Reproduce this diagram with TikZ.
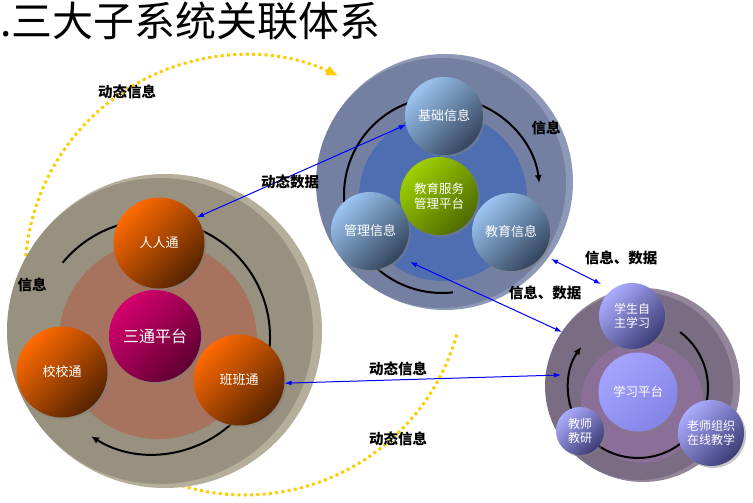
\documentclass[tikz,border=0pt]{standalone}
\usepackage{fontspec}
\setmainfont{Noto Sans CJK SC}
\usetikzlibrary{arrows.meta,shadows,calc}
\definecolor{lface}{HTML}{98917F}
\definecolor{lrim}{HTML}{B4AE9A}
\definecolor{linn}{HTML}{A8735E}
\definecolor{tface}{HTML}{7480A2}
\definecolor{trim}{HTML}{8E99B8}
\definecolor{tinn}{HTML}{4F6EB2}
\definecolor{pface}{HTML}{7A6C82}
\definecolor{prim}{HTML}{93869A}
\definecolor{pinn}{HTML}{8B6F98}
\definecolor{orTop}{HTML}{FF6A00}
\definecolor{orMid}{HTML}{B04600}
\definecolor{orBot}{HTML}{552400}
\definecolor{mgTop}{HTML}{D4006E}
\definecolor{mgMid}{HTML}{A40056}
\definecolor{mgBot}{HTML}{600032}
\definecolor{sbTop}{HTML}{9CC6F2}
\definecolor{sbMid}{HTML}{6A88AA}
\definecolor{sbBot}{HTML}{33445C}
\definecolor{grTop}{HTML}{9ED000}
\definecolor{grMid}{HTML}{7EA600}
\definecolor{grBot}{HTML}{4F6A00}
\definecolor{pwTop}{HTML}{ACACFF}
\definecolor{pwMid}{HTML}{7474C4}
\definecolor{pwBot}{HTML}{3C3C76}
\definecolor{ctTop}{HTML}{A4A4FF}
\definecolor{ctMid}{HTML}{9494F4}
\definecolor{ctBot}{HTML}{8484E6}
\definecolor{ydot}{HTML}{FFCC00}
\begin{document}
\begin{tikzpicture}[x=1pt,y=-1pt,
  disc/.style={circle, inner sep=0pt, draw=none},
  ball/.style={circle, inner sep=0pt, text=white, align=center,
    drop shadow={opacity=0.45, shadow xshift=2pt, shadow yshift=-2pt},
    font=\fontsize{13}{15}\selectfont},
  shadeball/.style n args={3}{top color=#1, middle color=#2, bottom color=#3, shading angle=45},
  orball/.style={ball, shadeball={orTop}{orMid}{orBot}, minimum size=91pt},
  sbball/.style={ball, shadeball={sbTop}{sbMid}{sbBot}, minimum size=78pt},
  pwball/.style={ball, shadeball={pwTop}{pwMid}{pwBot}, font=\fontsize{12}{14}\selectfont},
  blackarc/.style={line width=2pt, black},
  archead/.style={-{Latex[length=8pt,width=7pt]}},
  ydots/.style={ydot, line width=3pt, dash pattern=on 3pt off 3.3pt},
  bluearr/.style={draw={rgb,255:red,0;green,0;blue,255}, line width=1pt,
    arrows={Latex[length=7pt,width=5pt]-Latex[length=7pt,width=5pt]}},
  lbl/.style={font=\bfseries\fontsize{14.5}{16}\selectfont, inner sep=0pt}]
\useasboundingbox (0,0) rectangle (753,503);
\fill[white] (0,0) rectangle (753,503);

% title
\node[anchor=base west, inner sep=0pt, font=\fontsize{41}{44}\selectfont] (title) at (0,37) {.三大子系统关联体系};

% yellow dotted arcs (behind the discs)
\coordinate (yc) at (245,275);
\draw[ydots, -{Triangle[length=12pt,width=9pt]}] (yc) ++(-180:220) arc[start angle=-180, end angle=-65, radius=220];
\draw[ydots] (yc) ++(110:220) arc[start angle=110, end angle=15, radius=220];

% ===== left system =====
\node[disc, fill=lrim, minimum size=314pt] (lrimc) at (165,331) {};
\node[disc, fill=lface, minimum size=306pt] (ldisc) at (160,331) {};
\node[disc, fill=linn, minimum size=198pt] (linner) at (158,340) {};
\coordinate (lc) at (153,337);
\draw[blackarc] (lc) ++(-140.6:117) arc[start angle=-140.6, end angle=-100, radius=117];
\draw[blackarc] (lc) ++(-75:117) arc[start angle=-75, end angle=15, radius=117];
\draw[blackarc, archead] (lc) ++(42:117) arc[start angle=42, end angle=122, radius=117];
\node[ball, shadeball={mgTop}{mgMid}{mgBot}, minimum size=92pt, font=\fontsize{16}{18}\selectfont] (st) at (155,336) {三通平台};
\node[orball] (rr) at (159,243) {人人通};
\node[orball] (xx) at (62,372) {校校通};
\node[orball] (bb) at (239,380) {班班通};

% ===== top-right system =====
\node[disc, fill=trim, minimum size=256pt] (trimc) at (445,182) {};
\node[disc, fill=tface, minimum size=250pt] (tdisc) at (441,183) {};
\node[disc, fill=tinn, minimum size=168pt] (tinner) at (443,197) {};
\coordinate (tc) at (442,195);
\draw[blackarc] (tc) ++(-105:98) arc[start angle=-105, end angle=-190, radius=98];
\draw[blackarc, archead] (tc) ++(-72:98) arc[start angle=-72, end angle=-7, radius=98];
\draw[blackarc] (tc) ++(135:98) arc[start angle=135, end angle=83.6, radius=98];
\node[ball, shadeball={grTop}{grMid}{grBot}, minimum size=78pt, font=\fontsize{12.5}{15}\selectfont] (gc) at (439,196) {教育服务\\管理平台};
\node[sbball] (jc) at (444,116) {基础信息};
\node[sbball] (gl) at (370,231) {管理信息};
\node[sbball] (jy) at (511,232) {教育信息};

% ===== bottom-right system =====
\node[disc, fill=prim, minimum size=194pt] (primc) at (643,385) {};
\node[disc, fill=pface, minimum size=188pt] (pdisc) at (639,386) {};
\node[disc, fill=pinn, minimum size=122pt] (pinner) at (642,402) {};
\coordinate (pc) at (638,388);
\draw[blackarc] (pc) ++(-53:70) arc[start angle=-53, end angle=20, radius=70];
\draw[blackarc, archead] (pc) ++(-205:70) arc[start angle=-205, end angle=-144, radius=70];
\draw[blackarc] (pc) ++(125:70) arc[start angle=125, end angle=48, radius=70];
\node[ball, shadeball={ctTop}{ctMid}{ctBot}, minimum size=79pt, font=\fontsize{12.5}{15}\selectfont] (xp) at (638,392) {学习平台};
\node[pwball, minimum size=66pt] (xs) at (632,316) {学生自\\主学习};
\node[pwball, minimum size=48pt] (js) at (580,431) {教师\\教研};
\node[pwball, minimum size=66pt] (ls) at (711,433) {老师组织\\在线教学};

% ===== blue connectors =====
\coordinate (p2) at (561,375);
\coordinate (q1) at (551,259);
\coordinate (q2) at (601,284);
\coordinate (r1) at (410,262);
\coordinate (r2) at (562,332);
\draw[bluearr] (jc.193) -- (rr.34);
\draw[bluearr] (bb.-4) -- (p2);
\draw[bluearr] (q1) -- (q2);
\draw[bluearr] (r1) -- (r2);

% ===== labels =====
\node[lbl] (l1) at (127,92) {动态信息};
\node[lbl] (l2) at (290,182) {动态数据};
\node[lbl] (l3) at (32,285) {信息};
\node[lbl] (l4) at (546,128) {信息};
\node[lbl] (l5) at (621,258) {信息、数据};
\node[lbl] (l6) at (545,293) {信息、数据};
\node[lbl] (l7) at (398,369) {动态信息};
\node[lbl] (l8) at (398,439) {动态信息};
\end{tikzpicture}
\end{document}
